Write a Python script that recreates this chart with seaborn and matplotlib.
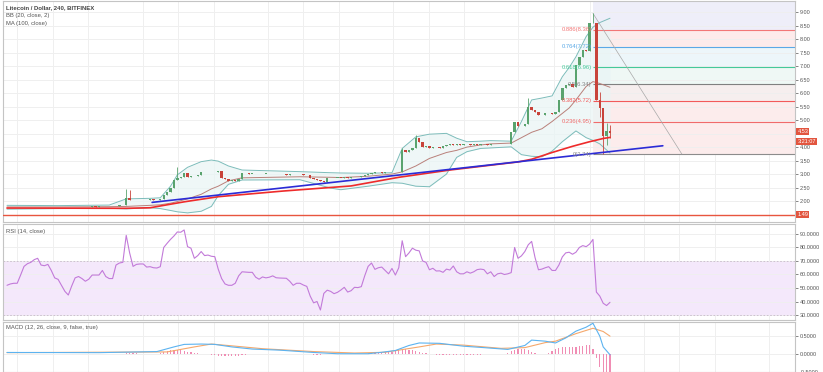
import numpy as np
import matplotlib
matplotlib.use("Agg")
import matplotlib.pyplot as plt
import matplotlib.transforms as mtrans
import seaborn as sns

# ---- data (4h candles, LTC/USD) ----
closes = [1.76, 1.77, 1.76, 1.77, 1.78, 1.77, 1.76, 1.77, 1.77, 1.78, 1.77, 1.76, 1.77, 1.78, 1.77, 1.77,
          1.78, 1.77, 1.76, 1.77, 1.78, 1.79, 1.78, 1.78, 1.79, 1.80, 1.79, 1.80, 1.81, 1.80, 1.80,
          1.81, 1.83, 1.84, 1.86,
          2.11, 2.04,
          2.03, 2.05, 2.04, 2.03, 2.05, 2.06, 2.04, 2.05, 2.06,
          2.23, 2.35, 2.48, 2.78, 2.84, 2.90, 3.05, 2.90, 2.93, 2.92, 2.95, 3.09, 3.07, 3.08, 3.06, 3.08,
          3.10, 2.84, 2.80, 2.76, 2.78, 2.75, 2.80, 3.03, 3.03,
          3.01, 3.02, 3.00, 2.99, 3.01, 3.02, 3.00, 2.99, 3.00, 3.01, 2.99, 2.98, 3.00, 2.99,
          3.00, 2.99, 2.98, 2.96, 2.85, 2.80, 2.78, 2.76, 2.72, 2.86, 2.85,
          2.86, 2.87, 2.86, 2.88, 2.87, 2.89, 2.88, 2.90,
          2.92, 2.96, 3.00, 3.05, 3.09,
          3.07, 3.05, 3.08, 3.06, 3.09, 3.07, 3.09,
          3.89, 3.83, 3.90, 3.97, 4.34, 4.20, 4.02, 4.05, 3.98, 3.99, 4.00, 3.97, 4.05, 4.08,
          4.10, 4.08, 4.12, 4.09, 4.11, 4.10, 4.08, 4.11, 4.09,
          4.10, 4.12, 4.09, 4.11, 4.10, 4.12, 4.10, 4.11, 4.12,
          4.57, 4.94, 4.80, 4.78, 4.85, 5.50, 5.38, 5.30, 5.20, 5.18, 5.25, 5.26, 5.24, 5.30,
          5.75, 6.19, 6.30, 6.35, 6.24, 7.04, 7.35, 7.60, 7.55, 8.59, 8.60, 5.75, 5.45, 4.40,
          4.60, 4.53]

wick_hi = {35: 2.45, 36: 2.40, 50: 3.26, 116: 3.95, 120: 4.45, 153: 5.82, 172: 8.96,
           174: 6.05, 176: 4.89, 177: 4.83}
wick_lo = {174: 5.10, 175: 3.76, 176: 4.07, 177: 4.32}

# bollinger bands (20, 2) and MA(100), read at a few bars
bb_idx = [0, 15, 30, 35, 42, 45, 48, 50, 53, 57, 60, 62, 65, 69, 86, 95, 98, 106, 113, 116,
          120, 124, 129, 132, 135, 139, 142, 148, 151, 154, 157, 160, 163, 165, 167, 170,
          172, 174, 177]
bb_upper = [1.84, 1.83, 1.85, 2.08, 2.10, 2.12, 2.55, 2.97, 3.25, 3.46, 3.52, 3.48, 3.30, 3.15,
            3.09, 3.05, 3.04, 3.03, 3.05, 3.95, 4.38, 4.48, 4.51, 4.33, 4.20, 4.22, 4.24, 4.22,
            4.95, 5.75, 5.82, 5.90, 6.61, 6.95, 7.35, 8.10, 8.45, 8.62, 8.78]
bb_mid = [1.78, 1.78, 1.79, 1.80, 1.84, 1.86, 1.92, 1.98, 2.08, 2.25, 2.45, 2.55, 2.75, 2.86,
          2.90, 2.88, 2.87, 2.92, 3.00, 3.08, 3.30, 3.58, 3.80, 3.88, 4.00, 4.08, 4.12, 4.15,
          4.35, 4.55, 4.68, 4.95, 5.25, 5.45, 5.75, 6.25, 6.43, 6.36, 6.22]
bb_lower = [1.70, 1.72, 1.73, 1.71, 1.75, 1.72, 1.65, 1.60, 1.56, 1.62, 1.80, 2.20, 2.62, 2.78,
            2.79, 2.48, 2.42, 2.55, 2.68, 2.66, 2.55, 2.53, 3.00, 3.62, 3.83, 3.95, 3.97, 4.01,
            3.72, 3.66, 3.64, 3.85, 4.20, 4.40, 4.60, 4.35, 4.25, 4.12, 3.78]

ma_idx = [0, 35, 42, 52, 62, 81, 101, 115, 130, 150, 154, 160, 166, 171, 175, 177]
ma100 = [1.74, 1.73, 1.75, 1.97, 2.16, 2.37, 2.56, 2.88, 3.15, 3.45, 3.55, 3.80, 4.03, 4.20,
         4.32, 4.36]

trend_x = [42.6, 192.5]
trend_y = [1.95, 4.05]
support_price = 1.49
last_price = 4.53
countdown = "3:21:07"

fib_start = 172
fib_levels = ["0", "0.236", "0.382", "0.5", "0.618", "0.764", "0.886"]
fib_prices = [3.74, 4.95, 5.72, 6.34, 6.96, 7.72, 8.36]
fib_line_colors = ["#8c8c8c", "#ef6b6b", "#f25a5a", "#808080", "#45c99a", "#5aa9e6", "#f27777"]
fib_fill_colors = ["#fcecec", "#fcecec", "#f6eeee", "#eff8f5", "#edf6fa", "#fdebeb", "#eeeef9"]
fib_diag_x = [172, 198.1]
fib_diag_y = [8.96, 3.74]

rsi = [52, 53, 53.5, 53.5, 59.6, 66, 68, 69, 71, 72, 67, 66.5, 67.5, 63, 57.5, 56.4, 52, 47.5, 44.8, 51.5,
       57.5, 58.5, 57, 55, 56.5, 59.6, 59.6, 59.6, 63, 58.5, 57, 57, 67, 68.5, 69, 89, 76, 66, 67.5, 67.8,
       67.8, 65.5, 65.8, 65, 64.8, 65.8, 80, 83.1, 86, 88.5, 91.5, 91.3, 93, 80.6, 79.5, 72, 74, 77, 74, 74.4,
       73.5, 73.2, 64, 57, 53, 52, 52, 53.5, 59, 62, 61.8, 61.6, 61.6, 58, 56.5, 58.2, 57.5, 58, 59, 57.6,
       57.4, 57.3, 57.2, 55, 52, 53.5, 53.5, 52.2, 51.2, 44, 39, 40, 33.7, 46, 48.4, 47.5, 45.8, 46.8, 48.5, 50.5,
       47, 48, 50.5, 50.3, 51, 59, 66, 68.5, 63.8, 65, 65.5, 63, 60.5, 64.5, 59.6, 65, 85, 73.2, 76, 79.5,
       78, 77.5, 70, 69, 63.5, 64.6, 62.6, 62.7, 61.6, 64, 63.3, 66.3, 62, 60.5, 60.5, 62, 61, 62, 63.6, 64,
       63.6, 60.5, 62, 58.5, 60.5, 61, 60, 60.5, 61.4, 80, 72, 73.8, 77, 82, 84.5, 72.5, 63.5, 64, 65, 65.8,
       63, 63, 67, 73, 76, 76.5, 75, 76.5, 80, 81.4, 80.6, 82.5, 86, 47, 44, 38.7, 37, 39.4]

macd_idx = [0, 27, 44, 49, 52, 57, 61, 66, 72, 80, 90, 97, 106, 110, 114, 118, 121, 127, 134, 140,
            147, 152, 154, 158, 161, 164, 167, 170, 172, 174, 175, 177]
macd_line = [0.045, 0.04, 0.07, 0.2, 0.27, 0.28, 0.27, 0.2, 0.14, 0.11, 0.045, 0.01, 0.01, 0.05, 0.1,
             0.24, 0.31, 0.3, 0.22, 0.18, 0.13, 0.24, 0.39, 0.36, 0.31, 0.45, 0.64, 0.75, 0.86, 0.5,
             0.2, -0.02]
sig_idx = [0, 47, 55, 60, 66, 75, 90, 102, 111, 121, 126, 134, 145, 152, 158, 161, 167, 172, 175, 177]
signal_line = [0.04, 0.06, 0.2, 0.28, 0.23, 0.15, 0.07, 0.03, 0.05, 0.2, 0.28, 0.25, 0.16, 0.18, 0.32,
               0.36, 0.57, 0.72, 0.63, 0.5]
hist = [0.01, 0.01, 0.01, 0.0, 0.0, -0.01, -0.01, 0.0, 0.01, 0.01, 0.01, 0.0, 0.0, -0.01, 0.0, 0.0, 0.01, 0.01, 0.0, 0.0,
        -0.01, -0.01, 0.0, 0.0, 0.01, 0.01, 0.01, 0.0, -0.01, 0.0, 0.0, 0.0, 0.01, 0.01, 0.01, 0.03, 0.03, 0.02, 0.02, 0.01,
        0.01, 0.01, 0.01, 0.0, 0.01,
        0.02, 0.05, 0.08, 0.10, 0.12, 0.12, 0.11, 0.09, 0.07, 0.05, 0.03, 0.02, 0.01, 0.0, -0.01, -0.02, -0.03, -0.04,
        -0.05, -0.06, -0.06, -0.05, -0.05, -0.04, -0.03, -0.02,
        -0.01, -0.01, 0.0, 0.0, 0.01, 0.01, 0.0, 0.0, -0.01, 0.0, 0.0, 0.0, 0.01, 0.01, 0.0, 0.0, 0.0, -0.01, -0.01, -0.02,
        -0.02, -0.02, -0.01, 0.0, 0.0, 0.0, 0.0, 0.0, 0.01, 0.0, 0.0, 0.0, 0.01, 0.01, 0.01, 0.02, 0.03, 0.03,
        0.02, 0.04, 0.05, 0.06, 0.07, 0.08, 0.10, 0.12, 0.13, 0.12, 0.10, 0.08, 0.06, 0.04, 0.02,
        -0.01, -0.01, -0.02, -0.02, -0.02, -0.02, -0.02, -0.02, -0.02, -0.02, -0.02, -0.02, -0.02, -0.02, -0.02, -0.02,
        -0.01, -0.01, -0.01, 0.0, 0.0, 0.01, 0.01,
        0.03, 0.08, 0.12, 0.15, 0.15, 0.13, 0.11, 0.06, 0.02, -0.01, -0.01, 0.01, 0.03, 0.08, 0.14, 0.17, 0.19, 0.20,
        0.21, 0.20, 0.21, 0.22, 0.23, 0.24, 0.25, 0.14, -0.10, -0.35, -0.50, -0.60, -0.65]

# time grid (month/day boundaries) in bar units
grid_x = [2.9, 13.5, 23.8, 40, 50.2, 60.8, 76.6, 86.9, 97.4, 113.3, 123.9, 134.1, 150, 160.5,
          171.1, 187, 197.2, 207.8, 223.7]

# ---- style ----
sns.set_style("white")
plt.rcParams['font.family'] = ['Liberation Sans', 'DejaVu Sans']

W, H = 823, 372
fig = plt.figure(figsize=(W / 100, H / 100), dpi=100)


def px_axes(x0, y0, x1, y1):
    return fig.add_axes([x0 / W, 1 - y1 / H, (x1 - x0) / W, (y1 - y0) / H])


ax = px_axes(3, 1, 795, 222)
ax_rsi = px_axes(3, 224, 795, 320)
ax_macd = px_axes(3, 322, 795, 372)

xmin, xmax = -1.17, 231.3
grid_col = "#efefef"
tick_col = "#555555"
for a in (ax, ax_rsi, ax_macd):
    a.set_xlim(xmin, xmax)
    a.set_xticks([])
    for gx in grid_x:
        a.axvline(gx, color=grid_col, lw=0.7, zorder=0)
    a.yaxis.tick_right()
    a.tick_params(axis='y', right=True, left=False, length=2, width=0.5, pad=1.5,
                  labelsize=4, colors=tick_col)
    a.grid(axis='y', color=grid_col, lw=0.7)
    a.set_axisbelow(True)
    for s in a.spines.values():
        s.set_color("#c4c4c4")
        s.set_linewidth(0.8)

# ---- price panel ----
N = len(closes)
bars = np.arange(N)
opens = [closes[0]] + closes[:-1]
up = "#5aa36e"
down = "#c8433a"
cols = [up if c >= o else down for o, c in zip(opens, closes)]
highs = [wick_hi.get(i, max(o, c)) for i, (o, c) in enumerate(zip(opens, closes))]
lows = [wick_lo.get(i, min(o, c)) for i, (o, c) in enumerate(zip(opens, closes))]

price_ticks = np.arange(2.0, 9.01, 0.5)
ax.set_ylim(1.222, 9.42)
ax.set_yticks(price_ticks)
# the 4.50 label sits under the last-price tag
ax.set_yticklabels(["" if abs(v - 4.5) < 1e-6 else f"{v:.2f}" for v in price_ticks])

# fibonacci retracement
edges = fib_prices + [9.42]
for k in range(len(fib_prices)):
    ax.fill_between([fib_start, xmax], edges[k], edges[k + 1], color=fib_fill_colors[k],
                    lw=0, zorder=0.5)
for lvl, p, c in zip(fib_levels, fib_prices, fib_line_colors):
    ax.hlines(p, fib_start, xmax, color=c, lw=0.8, zorder=1)
    ax.text(fib_start - 0.4, p, f"{lvl}({p:.2f})", color=c, fontsize=4.2, ha='right',
            va='center', zorder=6)
ax.plot(fib_diag_x, fib_diag_y, color="#a8a8a8", lw=0.5, zorder=2)

# bollinger bands
ax.fill_between(bb_idx, bb_lower, bb_upper, color="#e9f5f5", alpha=0.7, lw=0, zorder=0.8)
sns.lineplot(x=bb_idx, y=bb_upper, ax=ax, color="#7cbcba", lw=0.7, legend=False, zorder=2)
sns.lineplot(x=bb_idx, y=bb_lower, ax=ax, color="#7cbcba", lw=0.7, legend=False, zorder=2)
sns.lineplot(x=bb_idx, y=bb_mid, ax=ax, color="#b9807a", lw=0.7, legend=False, zorder=2)

# candles
ax.vlines(bars, lows, highs, colors=cols, lw=0.6, zorder=3)
body_lo = [min(o, c) for o, c in zip(opens, closes)]
body_h = [max(abs(c - o), 0.015) for o, c in zip(opens, closes)]
ax.bar(bars, body_h, bottom=body_lo, width=0.7, color=cols, lw=0, zorder=3)

# MA 100, trend line, support
sns.lineplot(x=ma_idx, y=ma100, ax=ax, color="#ee2b2b", lw=1.2, legend=False, zorder=4)
ax.plot(trend_x, trend_y, color="#2b2bd6", lw=1.2, zorder=4)
ax.axhline(support_price, color="#e8553f", lw=1.0, zorder=4)

blend = mtrans.blended_transform_factory(ax.transAxes, ax.transData)
box = dict(boxstyle='square,pad=0.2', fc="#e2553f", ec='none')
ax.text(1.003, last_price + 0.04, f"{last_price:.2f}", transform=blend, fontsize=4, color='white',
        va='center', ha='left', bbox=box, clip_on=False, zorder=10)
ax.text(1.003, 4.22, countdown, transform=blend, fontsize=4, color='white',
        va='center', ha='left', bbox=box, clip_on=False, zorder=10)
ax.text(1.003, support_price, f"{support_price:.2f}", transform=blend, fontsize=4, color='white',
        va='center', ha='left', bbox=box, clip_on=False, zorder=10)

fig.text(6 / W, 1 - 8 / H, "Litecoin / Dollar, 240, BITFINEX", fontsize=4.3, weight='bold',
         color="#444444", va='center')
fig.text(6 / W, 1 - 16 / H, "BB (20, close, 2)", fontsize=4.2, color="#555555", va='center')
fig.text(6 / W, 1 - 24 / H, "MA (100, close)", fontsize=4.2, color="#555555", va='center')

# ---- RSI panel ----
ax_rsi.set_ylim(26.3, 97.4)
ax_rsi.set_yticks(np.arange(30, 91, 10))
ax_rsi.set_yticklabels([f"{v:.4f}" for v in np.arange(30, 91, 10)])
ax_rsi.axhspan(30, 70, color="#f4e8fb", lw=0, zorder=0.5)
ax_rsi.axhline(70, color="#c8b8cc", lw=0.6, ls=(0, (2, 2)), zorder=1)
ax_rsi.axhline(30, color="#c8b8cc", lw=0.6, ls=(0, (2, 2)), zorder=1)
sns.lineplot(x=bars, y=rsi, ax=ax_rsi, color="#c27ad9", lw=0.8, legend=False, zorder=3)
fig.text(6 / W, 1 - 232 / H, "RSI (14, close)", fontsize=4.2, color="#555555", va='center')

# ---- MACD panel ----
ax_macd.set_ylim(-0.42, 0.895)
ax_macd.set_yticks([-0.5, 0.0, 0.5])
ax_macd.set_yticklabels(["-0.5000", "0.0000", "0.5000"])
ax_macd.bar(bars, hist, width=0.35, color="#f08db4", lw=0, zorder=2)
sns.lineplot(x=sig_idx, y=signal_line, ax=ax_macd, color="#f5a86c", lw=0.8, legend=False, zorder=3)
sns.lineplot(x=macd_idx, y=macd_line, ax=ax_macd, color="#5cb3f0", lw=0.8, legend=False, zorder=3)
fig.text(6 / W, 1 - 328 / H, "MACD (12, 26, close, 9, false, true)", fontsize=4.2,
         color="#555555", va='center')

for a in (ax, ax_rsi, ax_macd):
    a.set_xlabel("")
    a.set_ylabel("")

fig.savefig("out.png", dpi=100)
